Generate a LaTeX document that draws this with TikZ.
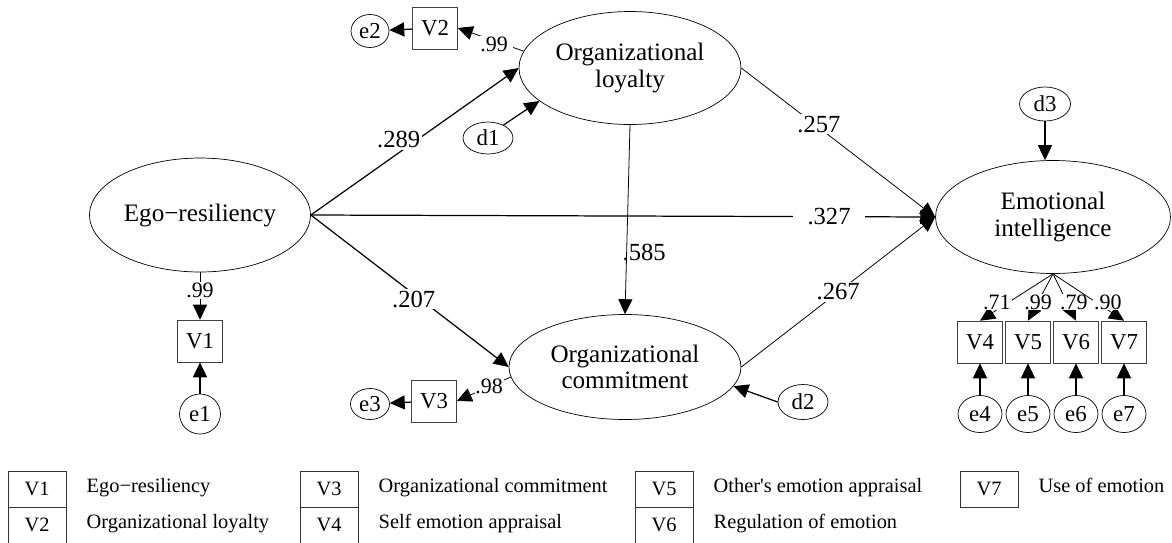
\documentclass[tikz,border=0pt]{standalone}
\usepackage{fontspec}
\setmainfont{Liberation Serif}[Ligatures=TeXOff]
\usepackage{tikz}
\usetikzlibrary{shapes.geometric}
\usetikzlibrary{arrows.meta}
\usetikzlibrary{positioning}

\begin{document}
\begin{tikzpicture}[x=0.02cm, y=-0.02cm,
		latent/.style={shape=ellipse, draw=black, inner sep=0pt, minimum width=4.44cm, minimum height=2.26cm, align=center, font=\fontsize{14.3}{15}\selectfont},
		err/.style={shape=ellipse, draw=black, inner sep=0pt, minimum width=0.84cm, minimum height=0.7cm, font=\fontsize{13}{13}\selectfont},
		obs/.style={shape=rectangle, draw=black!75, inner sep=0pt, minimum width=0.9cm, minimum height=0.84cm, font=\fontsize{13}{13}\selectfont},
		lbl/.style={fill=white, inner sep=1pt, font=\fontsize{14}{14}\selectfont},
		lbs/.style={fill=white, inner sep=0.5pt, font=\fontsize{12.5}{12.5}\selectfont},
		cell/.style={shape=rectangle, draw=black!80, inner sep=0pt, minimum width=1.16cm, minimum height=0.72cm, font=\fontsize{11.6}{12}\selectfont},
		celltext/.style={inner sep=0pt, text height=0.7em, text depth=0.25em, font=\fontsize{11.6}{12}\selectfont},
		heavy/.style={line width=0.7pt},
		light/.style={line width=0.45pt},
		>={Triangle[length=8.5pt,width=8pt]},
]
\useasboundingbox (0,0) rectangle (1172,542);

\node[latent, minimum width=4.42cm, minimum height=2.28cm] (ego) at (200,215) {Ego−resiliency};
\node[latent] (ol) at (630,68) {Organizational\\loyalty};
\node[latent, minimum width=4.64cm, minimum height=2.1cm] (oc) at (625,367) {Organizational\\commitment};
\node[latent, minimum width=4.7cm] (ei) at (1053,217) {Emotional\\intelligence};

\node[err, minimum width=1cm, minimum height=0.64cm] (d1) at (488,138) {d1};
\node[err, minimum width=1cm, minimum height=0.7cm] (d2) at (803,402) {d2};
\node[err, minimum width=1.02cm, minimum height=0.68cm] (d3) at (1045,104) {d3};

\node[obs] (v1) at (200,341) {V1};
\node[obs] (v2) at (435,28) {V2};
\node[obs] (v3) at (434,401) {V3};
\node[obs] (v4) at (980,342) {V4};
\node[obs] (v5) at (1028,342) {V5};
\node[obs] (v6) at (1076,342) {V6};
\node[obs] (v7) at (1124,342) {V7};

\node[err, minimum width=0.82cm, minimum height=0.8cm] (e1) at (200,414) {e1};
\node[err, minimum width=0.76cm, minimum height=0.66cm] (e2) at (370,31) {e2};
\node[err, minimum width=0.78cm, minimum height=0.62cm] (e3) at (370,404) {e3};
\node[err, minimum width=0.88cm, minimum height=0.74cm] (e4) at (980,414) {e4};
\node[err, minimum width=0.88cm, minimum height=0.74cm] (e5) at (1028,414) {e5};
\node[err, minimum width=0.88cm, minimum height=0.74cm] (e6) at (1076,414) {e6};
\node[err, minimum width=0.88cm, minimum height=0.74cm] (e7) at (1124,414) {e7};

% structural paths
\draw [->, heavy] (ego.east) -- node[lbl, pos=0.49, xshift=-8pt, yshift=2pt] (w289) {.289} (ol.west);
\draw [->, heavy] (ego.east) -- node[lbl, pos=0.83, inner xsep=8pt] (w327) {.327} (ei.west);
\draw [->, heavy] (ego.east) -- node[lbl, pos=0.52, yshift=-3pt] (w207) {.207} (oc.west);
\draw [->, light] (ol.east) -- node[lbl, pos=0.4, yshift=2pt] (w257) {.257} (ei.west);
\draw [->, light] (ol.south) -- node[pos=0.675, xshift=10pt, font=\fontsize{14}{14}\selectfont] (w585) {.585} (oc.north);
\draw [->, light] (oc.east) -- node[lbl, pos=0.5] (w267) {.267} (ei.west);

\draw [->, heavy] (d1.40) -- (ol.200);
\draw [->, heavy] (d2.west) -- (oc.350);
\draw [->, heavy] (d3.south) -- (d3.south |- ei.north);

% loadings
\draw [->, light] (ego.south) -- node[lbs, pos=0.39] (l1) {.99} (v1.north);
\draw [->, light] (ol.171) -- node[lbs, pos=0.45, inner xsep=3pt, yshift=-2pt] (l2) {.99} (v2.east);
\draw [->, light] (oc.185) -- node[lbs, pos=0.4] (l3) {.98} (v3.east);
\draw [->, light] (ei.south) -- node[lbs, pos=0.6, xshift=-7pt] (l4) {.71} (v4.north);
\draw [->, light] (ei.south) -- node[lbs, pos=0.6] (l5) {.99} (v5.north);
\draw [->, light] (ei.south) -- node[lbs, pos=0.6, xshift=4pt] (l6) {.79} (v6.north);
\draw [->, light] (ei.south) -- node[lbs, pos=0.6, xshift=7pt] (l7) {.90} (v7.north);

\draw [->, heavy] (e1) -- (v1);
\draw [->, heavy] (v2) -- (e2);
\draw [->, heavy] (v3) -- (e3);
\draw [->, heavy] (e4) -- (v4);
\draw [->, heavy] (e5) -- (v5);
\draw [->, heavy] (e6) -- (v6);
\draw [->, heavy] (e7) -- (v7);

% legend
\node[cell] (k1) at (37,489) {V1};
\node[cell] (k2) at (37,525) {V2};
\node[cell] (k3) at (329,489) {V3};
\node[cell] (k4) at (329,525) {V4};
\node[cell] (k5) at (664,489) {V5};
\node[cell] (k6) at (664,525) {V6};
\node[cell] (k7) at (989,489) {V7};

\node[celltext, right=0.4cm of k1] (t1) {Ego−resiliency};
\node[celltext, right=0.4cm of k2] (t2) {Organizational loyalty};
\node[celltext, right=0.4cm of k3] (t3) {Organizational commitment};
\node[celltext, right=0.4cm of k4] (t4) {Self emotion appraisal};
\node[celltext, right=0.4cm of k5] (t5) {Other's emotion appraisal};
\node[celltext, right=0.4cm of k6] (t6) {Regulation of emotion};
\node[celltext, right=0.4cm of k7] (t7) {Use of emotion};

\end{tikzpicture}
\end{document}
